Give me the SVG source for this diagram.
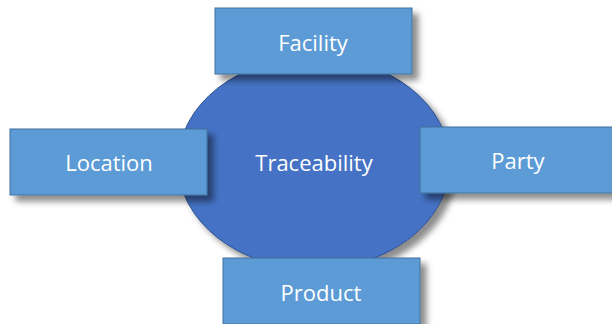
<svg xmlns="http://www.w3.org/2000/svg" width="612" height="324" viewBox="0 0 612 324">
<defs>
<filter id="sh" x="-20%" y="-20%" width="150%" height="160%">
<feDropShadow dx="6" dy="6" stdDeviation="3" flood-color="#000" flood-opacity="0.45"/>
</filter>
<style>
.box{fill:#5B9BD5;stroke:#41719C;stroke-width:1}
.lbl{font-family:"Open Sans","Liberation Sans",sans-serif;font-size:22px;fill:#fff;text-anchor:middle;dominant-baseline:central}
</style>
</defs>
<rect width="612" height="324" fill="#fff"/>
<g id="traceability">
<ellipse cx="314" cy="163" rx="136" ry="106" fill="#4472C4" stroke="#2F528F" stroke-width="1" filter="url(#sh)"/>
<text class="lbl" x="314" y="162">Traceability</text>
</g>
<g id="connectors"></g>
<g id="facility">
<rect class="box" x="215" y="8" width="197" height="66" filter="url(#sh)"/>
<text class="lbl" x="313" y="42">Facility</text>
</g>
<g id="location">
<rect class="box" x="10" y="129" width="197" height="66" filter="url(#sh)"/>
<text class="lbl" x="109" y="162">Location</text>
</g>
<g id="party">
<rect class="box" x="420" y="127" width="197" height="66" filter="url(#sh)"/>
<text class="lbl" x="518" y="160">Party</text>
</g>
<g id="product">
<rect class="box" x="223" y="258" width="197" height="66" filter="url(#sh)"/>
<text class="lbl" x="321" y="292">Product</text>
</g>
</svg>
